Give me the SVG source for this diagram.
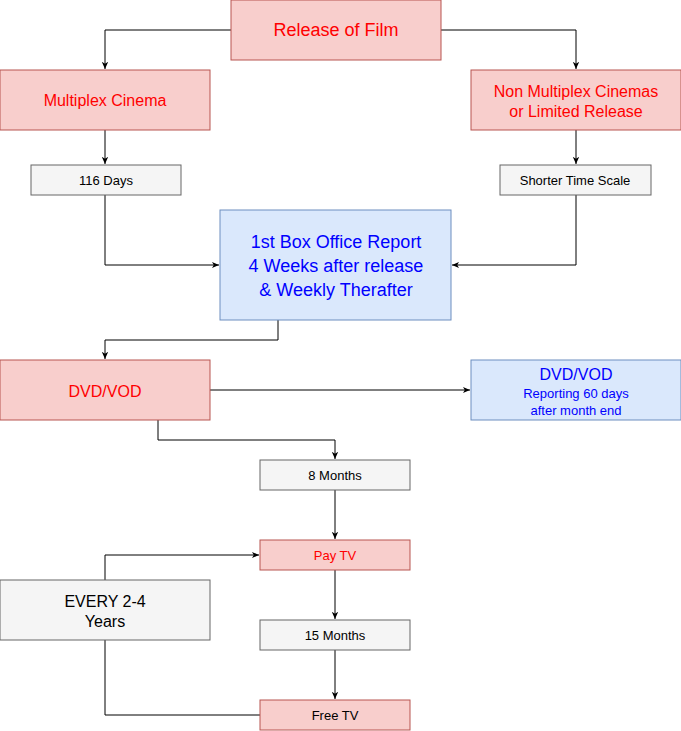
<svg xmlns="http://www.w3.org/2000/svg" width="681" height="731" viewBox="0 0 681 731">
<style>
.r{fill:#f8cecc;stroke:#b85450;stroke-width:1}
.g{fill:#f5f5f5;stroke:#666;stroke-width:1}
.b{fill:#dae8fc;stroke:#6c8ebf;stroke-width:1}
text{font-family:"Liberation Sans",Arial,sans-serif;text-anchor:middle}
.rt{fill:#ff0000}.bt{fill:#0000ff}.kt{fill:#000}
.c{fill:none;stroke:#000;stroke-width:1}
</style>
<defs><marker id="a" viewBox="0 0 10 10" refX="9" refY="5" markerWidth="8" markerHeight="8" orient="auto"><path d="M0,1 L9,5 L0,9 L2.5,5z" fill="#000"/></marker></defs>
<rect width="681" height="731" fill="#fff"/>
<g id="connectors">
<path class="c" marker-end="url(#a)" d="M231,30H105V69"/>
<path class="c" marker-end="url(#a)" d="M441,30H576V69"/>
<path class="c" marker-end="url(#a)" d="M105,130V164"/>
<path class="c" marker-end="url(#a)" d="M576,130V164"/>
<path class="c" marker-end="url(#a)" d="M105,195V265H219"/>
<path class="c" marker-end="url(#a)" d="M576,195V265H452"/>
<path class="c" marker-end="url(#a)" d="M278,320V340H105V359"/>
<path class="c" marker-end="url(#a)" d="M210,390H470"/>
<path class="c" marker-end="url(#a)" d="M158,420V440H335V459"/>
<path class="c" marker-end="url(#a)" d="M335,490V539"/>
<path class="c" marker-end="url(#a)" d="M335,570V619"/>
<path class="c" marker-end="url(#a)" d="M335,650V699"/>
<path class="c" marker-end="url(#a)" d="M105,580V555H259"/>
<path class="c" d="M260,715H105V640"/>
</g>
<g id="release"><rect class="r" x="231" y="0" width="210" height="60"/><text class="rt" x="336" y="36" font-size="18">Release of Film</text></g>
<g id="multiplex"><rect class="r" x="0" y="70" width="210" height="60"/><text class="rt" x="105" y="106" font-size="16">Multiplex Cinema</text></g>
<g id="nonmultiplex"><rect class="r" x="471" y="70" width="210" height="60"/><text class="rt" x="576" y="97" font-size="16">Non Multiplex Cinemas</text><text class="rt" x="576" y="117" font-size="16">or Limited Release</text></g>
<g id="days116"><rect class="g" x="31" y="165" width="150" height="30"/><text class="kt" x="106" y="185" font-size="13">116 Days</text></g>
<g id="shorter"><rect class="g" x="500" y="165" width="151" height="30"/><text class="kt" x="575" y="185" font-size="13">Shorter Time Scale</text></g>
<g id="boxoffice"><rect class="b" x="220" y="210" width="231" height="110"/><text class="bt" x="336" y="248" font-size="18">1st Box Office Report</text><text class="bt" x="336" y="272" font-size="18">4 Weeks after release</text><text class="bt" x="336" y="296" font-size="18">&amp; Weekly Therafter</text></g>
<g id="dvd"><rect class="r" x="0" y="360" width="210" height="60"/><text class="rt" x="105" y="397" font-size="16">DVD/VOD</text></g>
<g id="dvd2"><rect class="b" x="471" y="360" width="210" height="60"/><text class="bt" x="576" y="380" font-size="16">DVD/VOD</text><text class="bt" x="576" y="398" font-size="13">Reporting 60 days</text><text class="bt" x="576" y="415" font-size="13">after month end</text></g>
<g id="m8"><rect class="g" x="260" y="460" width="150" height="30"/><text class="kt" x="335" y="480" font-size="13">8 Months</text></g>
<g id="paytv"><rect class="r" x="260" y="540" width="150" height="30"/><text class="rt" x="335" y="560" font-size="13">Pay TV</text></g>
<g id="every"><rect class="g" x="0" y="580" width="210" height="60"/><text class="kt" x="105" y="607" font-size="16">EVERY 2-4</text><text class="kt" x="105" y="627" font-size="16">Years</text></g>
<g id="m15"><rect class="g" x="260" y="620" width="150" height="30"/><text class="kt" x="335" y="640" font-size="13">15 Months</text></g>
<g id="freetv"><rect class="r" x="260" y="700" width="150" height="30"/><text class="kt" x="335" y="720" font-size="13">Free TV</text></g>
</svg>
